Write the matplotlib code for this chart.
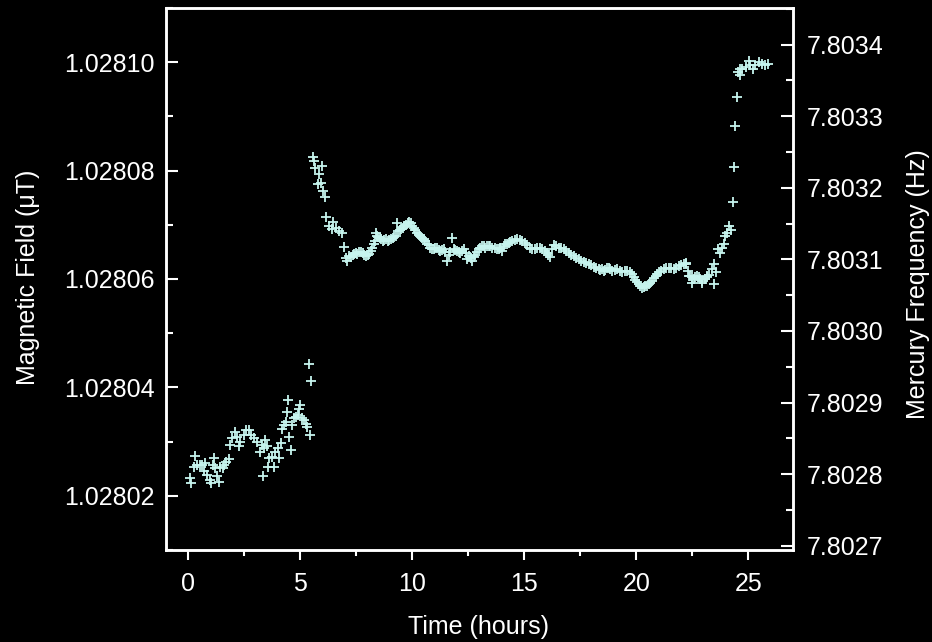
import matplotlib
matplotlib.use("Agg")
import matplotlib.pyplot as plt
from matplotlib.ticker import MultipleLocator, FormatStrFormatter

# time in hours, field in uT
time_h = [
    0.05, 0.11, 0.23, 0.30, 0.37, 0.50, 0.61, 0.68, 0.76, 0.83, 0.95, 1.01,
    1.10, 1.13, 1.20, 1.28, 1.35, 1.42, 1.53, 1.60, 1.68, 1.80, 1.87, 1.95,
    2.09, 2.17, 2.25, 2.32, 2.47, 2.59, 2.69, 2.80, 2.92, 3.07, 3.21, 3.29,
    3.33, 3.36, 3.44, 3.51, 3.54, 3.59, 3.74, 3.81, 3.88, 3.99, 4.06, 4.14,
    4.18, 4.26, 4.36, 4.41, 4.44, 4.50, 4.56, 4.64, 4.72, 4.79, 4.88, 4.93,
    5.00, 5.08, 5.15, 5.24, 5.30, 5.37, 5.45, 5.49,
    5.55, 5.63, 5.67, 5.79, 5.82, 5.90, 5.97, 6.01, 6.10, 6.13, 6.27, 6.42,
    6.45, 6.61, 6.71, 6.84, 6.95, 7.10, 7.18, 7.33, 7.48, 7.63, 7.78, 7.93,
    8.08, 8.20, 8.27, 8.38, 8.48, 8.60, 8.75, 8.90, 9.05, 9.20, 9.31, 9.43,
    9.58, 9.73, 9.87, 9.92,
    10.06, 10.21, 10.36, 10.51, 10.66, 10.81, 10.96, 11.11, 11.25, 11.40,
    11.55, 11.63, 11.78, 11.85, 12.00, 12.15, 12.30, 12.45, 12.52, 12.67,
    12.81, 12.96, 13.11, 13.26, 13.41, 13.56, 13.79, 13.93, 14.01, 14.16,
    14.23, 14.31, 14.46, 14.68, 14.90, 15.13, 15.35, 15.57, 15.80, 16.02,
    16.14, 16.32, 16.54, 16.76, 16.99, 17.21, 17.43, 17.66, 17.88, 18.10,
    18.33, 18.48, 18.55, 18.70, 18.78, 18.92, 19.15, 19.37, 19.59, 19.82,
    19.96, 20.11, 20.26, 20.41, 20.56, 20.71, 20.86, 21.00, 21.23, 21.45,
    21.67, 21.90, 22.12, 22.20, 22.24, 22.34, 22.42, 22.49, 22.49, 22.64,
    22.72, 22.79, 22.94, 22.94, 23.16, 23.16, 23.39, 23.46, 23.49, 23.58,
    23.64, 23.76, 23.84, 23.94, 23.98, 24.06, 24.13, 24.21, 24.31, 24.36,
    24.43, 24.48, 24.53, 24.62, 24.65, 24.73, 24.88, 25.02, 25.10, 25.22,
    25.32, 25.47, 25.62, 25.77, 25.87,
    # extra readings inside the dense band
    7.03, 7.25, 7.40, 7.55, 7.70, 7.86, 8.00, 8.14, 8.33, 8.43, 8.54, 8.68,
    8.83, 8.98, 9.12, 9.25, 9.37, 9.50, 9.65, 9.80, 9.99, 10.14, 10.28,
    10.43, 10.58, 10.73, 10.88, 11.03, 11.18, 11.33, 11.47, 11.70, 11.92,
    12.08, 12.22, 12.38, 12.60, 12.74, 12.88, 13.03, 13.18, 13.33, 13.48,
    13.67, 13.86, 14.08, 14.38, 14.57, 14.79, 15.01, 15.24, 15.46, 15.68,
    15.91, 16.08, 16.23, 16.43, 16.65, 16.88, 17.10, 17.32, 17.54, 17.77,
    17.99, 18.21, 18.40, 18.62, 18.85, 19.03, 19.26, 19.48, 19.70, 19.89,
    20.04, 20.18, 20.33, 20.48, 20.63, 20.78, 20.93, 21.12, 21.34, 21.56,
    21.78, 22.01, 22.29, 22.56, 22.86, 23.05, 23.27,
]
field_uT = [
    1.0280232, 1.0280223, 1.0280254, 1.0280273, 1.0280257, 1.0280256,
    1.0280257, 1.0280245, 1.0280260, 1.0280239, 1.0280229, 1.0280223,
    1.0280257, 1.0280269, 1.0280251, 1.0280236, 1.0280225, 1.0280254,
    1.0280251, 1.0280257, 1.0280263, 1.0280267, 1.0280294, 1.0280306,
    1.0280318, 1.0280309, 1.0280291, 1.0280300, 1.0280312, 1.0280321,
    1.0280322, 1.0280313, 1.0280306, 1.0280300, 1.0280281, 1.0280294,
    1.0280236, 1.0280288, 1.0280303, 1.0280291, 1.0280254, 1.0280269,
    1.0280272, 1.0280254, 1.0280281, 1.0280288, 1.0280269, 1.0280297,
    1.0280324, 1.0280330, 1.0280337, 1.0280355, 1.0280376, 1.0280309,
    1.0280284, 1.0280330, 1.0280343, 1.0280346, 1.0280349, 1.0280361,
    1.0280367, 1.0280343, 1.0280339, 1.0280333, 1.0280327, 1.0280443,
    1.0280312, 1.0280411,
    1.0280826, 1.0280817, 1.0280804, 1.0280775, 1.0280794, 1.0280777,
    1.0280809, 1.0280763, 1.0280752, 1.0280714, 1.0280697, 1.0280692,
    1.0280706, 1.0280694, 1.0280688, 1.0280684, 1.0280659, 1.0280633,
    1.0280642, 1.0280645, 1.0280648, 1.0280650, 1.0280648, 1.0280643,
    1.0280647, 1.0280658, 1.0280664, 1.0280684, 1.0280678, 1.0280673,
    1.0280672, 1.0280670, 1.0280673, 1.0280678, 1.0280703, 1.0280691,
    1.0280694, 1.0280700, 1.0280706, 1.0280703,
    1.0280694, 1.0280685, 1.0280679, 1.0280673, 1.0280665, 1.0280658,
    1.0280655, 1.0280658, 1.0280651, 1.0280655, 1.0280633, 1.0280645,
    1.0280676, 1.0280655, 1.0280651, 1.0280648, 1.0280655, 1.0280636,
    1.0280642, 1.0280633, 1.0280645, 1.0280655, 1.0280661, 1.0280658,
    1.0280661, 1.0280658, 1.0280655, 1.0280658, 1.0280651, 1.0280664,
    1.0280664, 1.0280667, 1.0280670, 1.0280673, 1.0280670, 1.0280662,
    1.0280655, 1.0280658, 1.0280655, 1.0280648, 1.0280640, 1.0280662,
    1.0280658, 1.0280655, 1.0280648, 1.0280642, 1.0280636, 1.0280632,
    1.0280627, 1.0280622, 1.0280618, 1.0280618, 1.0280615, 1.0280621,
    1.0280620, 1.0280615, 1.0280618, 1.0280612, 1.0280615, 1.0280609,
    1.0280599, 1.0280590, 1.0280584, 1.0280587, 1.0280590, 1.0280596,
    1.0280606, 1.0280612, 1.0280618, 1.0280621, 1.0280618, 1.0280624,
    1.0280627, 1.0280627, 1.0280630, 1.0280606, 1.0280606, 1.0280593,
    1.0280603, 1.0280603, 1.0280606, 1.0280603, 1.0280593, 1.0280596,
    1.0280603, 1.0280606, 1.0280618, 1.0280627, 1.0280590, 1.0280612,
    1.0280655, 1.0280648, 1.0280658, 1.0280664, 1.0280679, 1.0280685,
    1.0280697, 1.0280690, 1.0280742, 1.0280806, 1.0280882, 1.0280936,
    1.0280982, 1.0280988, 1.0280976, 1.0280988, 1.0280991, 1.0281003,
    1.0280994, 1.0280988, 1.0280994, 1.0281000, 1.0280997, 1.0280994,
    1.0280997,
    # extra readings inside the dense band
    1.0280638, 1.0280640, 1.0280646, 1.0280647, 1.0280650, 1.0280645,
    1.0280645, 1.0280652, 1.0280670, 1.0280680, 1.0280675, 1.0280670,
    1.0280674, 1.0280672, 1.0280675, 1.0280680, 1.0280688, 1.0280692,
    1.0280697, 1.0280704, 1.0280698, 1.0280690, 1.0280682, 1.0280676,
    1.0280670, 1.0280662, 1.0280656, 1.0280657, 1.0280654, 1.0280653,
    1.0280650, 1.0280650, 1.0280653, 1.0280650, 1.0280652, 1.0280648,
    1.0280638, 1.0280640, 1.0280650, 1.0280658, 1.0280660, 1.0280660,
    1.0280660, 1.0280657, 1.0280656, 1.0280660, 1.0280668, 1.0280672,
    1.0280672, 1.0280666, 1.0280658, 1.0280656, 1.0280657, 1.0280652,
    1.0280645, 1.0280655, 1.0280660, 1.0280657, 1.0280652, 1.0280645,
    1.0280639, 1.0280634, 1.0280630, 1.0280625, 1.0280620, 1.0280617,
    1.0280617, 1.0280618, 1.0280616, 1.0280615, 1.0280614, 1.0280612,
    1.0280604, 1.0280595, 1.0280587, 1.0280586, 1.0280588, 1.0280593,
    1.0280601, 1.0280609, 1.0280615, 1.0280620, 1.0280620, 1.0280621,
    1.0280625, 1.0280615, 1.0280600, 1.0280600, 1.0280600, 1.0280608,
]

field_ticks = [1.02802, 1.02804, 1.02806, 1.02808, 1.02810]
freq_ticks = [7.8027, 7.8028, 7.8029, 7.8030, 7.8031, 7.8032, 7.8033, 7.8034]

fg = "white"
pt_color = "#c6f4ee"

plt.rcParams["font.family"] = ["Liberation Sans", "DejaVu Sans"]
plt.rcParams["font.size"] = 18

fig = plt.figure(figsize=(9.32, 6.42), dpi=100, facecolor="black")
ax = fig.add_axes([166 / 932, 1 - 550 / 642, 627 / 932, 542 / 642])
ax.set_facecolor("black")

ax.plot(time_h, field_uT, linestyle="none", marker="+", markersize=7.5,
        markeredgewidth=1.3, color=pt_color)

ax.set_xlim(-1.0, 27.0)
ax.set_ylim(1.028010, 1.028110)
ax.set_xticks([0, 5, 10, 15, 20, 25])
ax.xaxis.set_minor_locator(MultipleLocator(2.5))
ax.set_yticks(field_ticks)
ax.yaxis.set_minor_locator(MultipleLocator(0.00001))
ax.yaxis.set_major_formatter(FormatStrFormatter("%.5f"))

for s in ax.spines.values():
    s.set_color(fg)
    s.set_linewidth(1.8)

# bottom ticks point out, side ticks point in (like the original)
ax.tick_params(axis="x", which="both", direction="out", colors=fg, width=1.5,
               top=False, pad=8)
ax.tick_params(axis="x", which="major", length=7.5)
ax.tick_params(axis="x", which="minor", length=4.5)
ax.tick_params(axis="y", which="both", direction="in", colors=fg, width=1.5,
               pad=8)
ax.tick_params(axis="y", which="major", length=8.5)
ax.tick_params(axis="y", which="minor", length=5)

ax2 = ax.twinx()
ax2.set_ylim(7.802694, 7.803451)
ax2.set_yticks(freq_ticks)
ax2.yaxis.set_minor_locator(MultipleLocator(0.00005))
ax2.yaxis.set_major_formatter(FormatStrFormatter("%.4f"))
for s in ax2.spines.values():
    s.set_color(fg)
    s.set_linewidth(1.8)
ax2.tick_params(axis="y", which="both", direction="in", colors=fg, width=1.5,
                pad=10)
ax2.tick_params(axis="y", which="major", length=8.5)
ax2.tick_params(axis="y", which="minor", length=5)

fig.text(478 / 932, 1 - 627 / 642, "Time (hours)", color=fg, ha="center",
         va="center", fontsize=18)
fig.text(28 / 932, 1 - 277 / 642, "Magnetic Field (\u03bcT)", color=fg,
         ha="center", va="center", rotation=90, fontsize=18)
fig.text(918 / 932, 1 - 284 / 642, "Mercury Frequency (Hz)", color=fg,
         ha="center", va="center", rotation=90, fontsize=18)

fig.savefig("out.png", dpi=100, facecolor="black")
